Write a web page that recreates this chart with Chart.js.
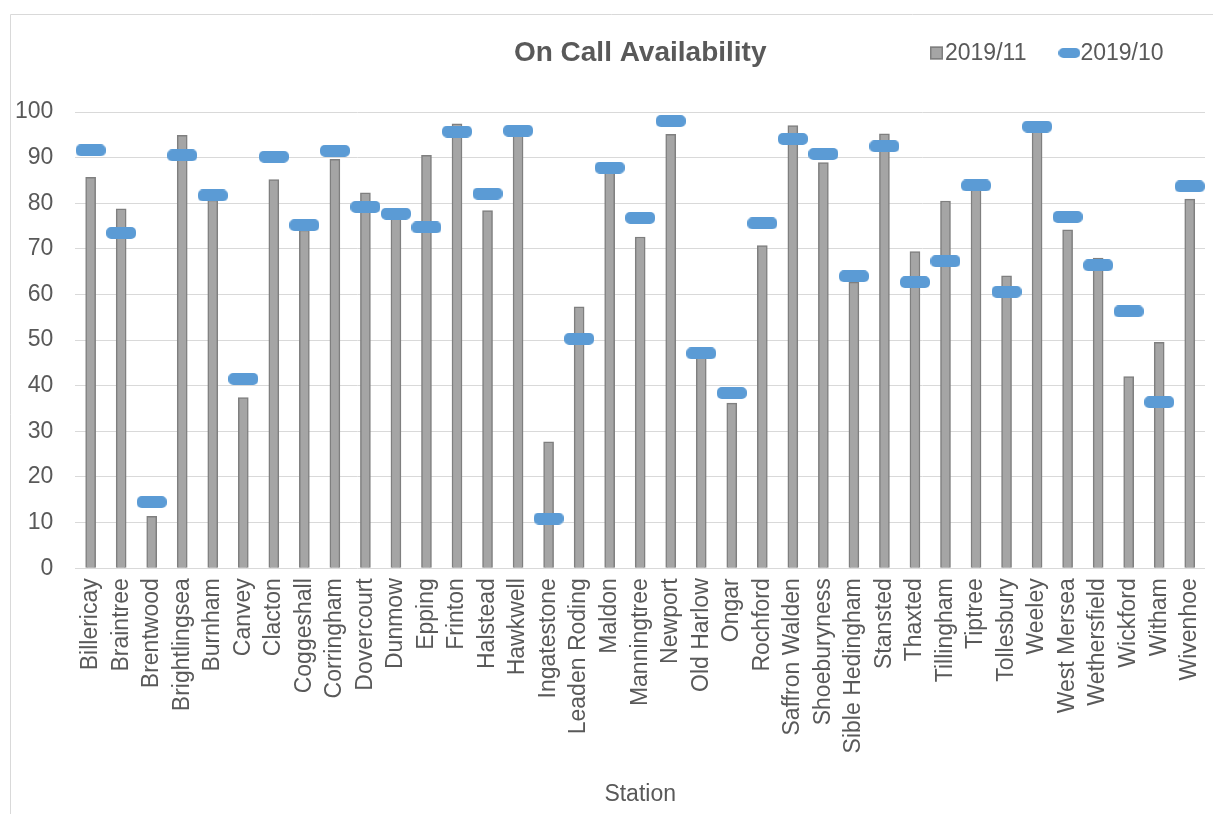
<!DOCTYPE html>
<html>
<head>
<meta charset="utf-8">
<title>On Call Availability</title>
<script src="https://cdn.jsdelivr.net/npm/chart.js@4.4.1/dist/chart.umd.min.js"></script>
<style>
    html, body { margin: 0; padding: 0; background: #ffffff; }
    #wrap { position: relative; width: 1213px; height: 814px; }
</style>
</head>
<body>
<div id="wrap"><canvas id="availabilityChart" width="1213" height="814"></canvas></div>
<script>
// Datos del gráfico
const chartTitle = 'On Call Availability';
const axisTitle = 'Station';
const stations = [
    'Billericay', 'Braintree', 'Brentwood', 'Brightlingsea', 'Burnham', 'Canvey',
    'Clacton', 'Coggeshall', 'Corringham', 'Dovercourt', 'Dunmow', 'Epping',
    'Frinton', 'Halstead', 'Hawkwell', 'Ingatestone', 'Leaden Roding', 'Maldon',
    'Manningtree', 'Newport', 'Old Harlow', 'Ongar', 'Rochford', 'Saffron Walden',
    'Shoeburyness', 'Sible Hedingham', 'Stansted', 'Thaxted', 'Tillingham', 'Tiptree',
    'Tollesbury', 'Weeley', 'West Mersea', 'Wethersfield', 'Wickford', 'Witham', 'Wivenhoe'
];
const novLabel = '2019/11';
const novValues = [
    85.7, 78.8, 11.4, 94.9, 80.7, 37.4, 85.2, 74.1, 89.6, 82.3, 76.7, 90.5,
    97.4, 78.4, 95.2, 27.7, 57.3, 86.9, 72.6, 95.1, 46.2, 36.2, 70.7, 97.0,
    88.9, 62.7, 95.2, 69.4, 80.5, 83.0, 64.1, 96.0, 74.2, 68.0, 42.0, 49.5, 80.9
];
const octLabel = '2019/10';
const octValues = [
    91.6, 73.5, 14.5, 90.5, 81.7, 41.5, 90.2, 75.2, 91.5, 79.2, 77.7, 74.7,
    95.7, 82.1, 95.9, 10.9, 50.3, 87.8, 76.8, 98.0, 47.1, 38.4, 75.6, 94.1,
    90.8, 64.0, 92.5, 62.7, 67.3, 83.9, 60.6, 96.8, 77.0, 66.4, 56.3, 36.4, 83.7
];
const yTicks = { min: 0, max: 100, step: 10 };

const FONT = '"Liberation Sans", Arial, sans-serif';
const TEXT_COLOR = '#595959';
const GRID_COLOR = '#d9d9d9';
const BAR_FILL = '#a5a5a5';
const BAR_EDGE = '#7f7f7f';
const DASH_COLOR = '#5b9bd5';

// Rectángulo redondeado usado como marcador de la serie 2019/10
function makeDash(w, h, r, color) {
    const c = document.createElement('canvas');
    c.width = w;
    c.height = h;
    const g = c.getContext('2d');
    g.fillStyle = color;
    g.beginPath();
    g.moveTo(r, 0);
    g.lineTo(w - r, 0);
    g.arcTo(w, 0, w, r, r);
    g.lineTo(w, h - r);
    g.arcTo(w, h, w - r, h, r);
    g.lineTo(r, h);
    g.arcTo(0, h, 0, h - r, r);
    g.lineTo(0, r);
    g.arcTo(0, 0, r, 0, r);
    g.closePath();
    g.fill();
    return c;
}

const dashMarker = makeDash(30, 12, 5, DASH_COLOR);
const dashLegend = makeDash(22, 10, 5, DASH_COLOR);

// Marco, título y leyenda en la misma fila
const chartHeader = {
    id: 'chartHeader',
    beforeDraw(chart) {
        const ctx = chart.ctx;
        ctx.save();
        ctx.strokeStyle = GRID_COLOR;
        ctx.lineWidth = 1;
        ctx.beginPath();
        ctx.moveTo(10.5, chart.height);
        ctx.lineTo(10.5, 14.5);
        ctx.lineTo(chart.width, 14.5);
        ctx.stroke();
        ctx.restore();
    },
    afterDraw(chart) {
        const ctx = chart.ctx;
        const area = chart.chartArea;
        const rowY = 53;
        ctx.save();
        ctx.fillStyle = TEXT_COLOR;
        ctx.textBaseline = 'middle';

        ctx.font = 'bold 28px ' + FONT;
        ctx.textAlign = 'center';
        ctx.fillText(chartTitle, (area.left + area.right) / 2, rowY);

        ctx.font = '23px ' + FONT;
        ctx.textAlign = 'left';
        let x = 930;
        ctx.fillStyle = BAR_FILL;
        ctx.fillRect(x, rowY - 6.5, 13, 13);
        ctx.strokeStyle = BAR_EDGE;
        ctx.lineWidth = 1.5;
        ctx.strokeRect(x + 0.75, rowY - 5.75, 11.5, 11.5);
        ctx.fillStyle = TEXT_COLOR;
        x += 15;
        ctx.fillText(novLabel, x, rowY + 1);
        x += ctx.measureText(novLabel).width + 32;
        ctx.drawImage(dashLegend, x, rowY - 5);
        x += 22;
        ctx.fillText(octLabel, x, rowY + 1);
        ctx.restore();
    }
};

document.addEventListener('DOMContentLoaded', function() {
    initAvailabilityChart();
});

function initAvailabilityChart() {
    const ctx = document.getElementById('availabilityChart').getContext('2d');

    new Chart(ctx, {
        type: 'bar',
        data: {
            labels: stations,
            datasets: [{
                type: 'bar',
                label: novLabel,
                data: novValues,
                backgroundColor: BAR_FILL,
                borderColor: BAR_EDGE,
                borderWidth: 1.5,
                barThickness: 10,
                order: 2
            }, {
                type: 'line',
                label: octLabel,
                data: octValues,
                showLine: false,
                pointStyle: dashMarker,
                pointRadius: 6,
                pointHoverRadius: 6,
                order: 1
            }]
        },
        plugins: [chartHeader],
        options: {
            responsive: false,
            animation: false,
            layout: {
                padding: { left: -7, right: 8, top: 112, bottom: 4 }
            },
            scales: {
                x: {
                    offset: true,
                    grid: { display: false },
                    border: { display: false },
                    // las etiquetas giradas no necesitan margen lateral extra
                    afterFit: function(scale) {
                        scale.paddingLeft = 0;
                        scale.paddingRight = 0;
                    },
                    ticks: {
                        autoSkip: false,
                        minRotation: 90,
                        maxRotation: 90,
                        padding: 2,
                        color: TEXT_COLOR,
                        font: { family: FONT, size: 23 }
                    },
                    title: {
                        display: true,
                        text: axisTitle,
                        color: TEXT_COLOR,
                        font: { family: FONT, size: 23 },
                        padding: { top: 25, bottom: 2 }
                    }
                },
                y: {
                    min: yTicks.min,
                    max: yTicks.max,
                    grid: {
                        color: GRID_COLOR,
                        lineWidth: 1,
                        drawTicks: false
                    },
                    border: { display: false },
                    ticks: {
                        stepSize: yTicks.step,
                        padding: 22,
                        color: TEXT_COLOR,
                        font: { family: FONT, size: 23 }
                    }
                }
            },
            plugins: {
                legend: { display: false },
                title: { display: false },
                tooltip: { enabled: false }
            }
        }
    });
}
</script>
</body>
</html>
